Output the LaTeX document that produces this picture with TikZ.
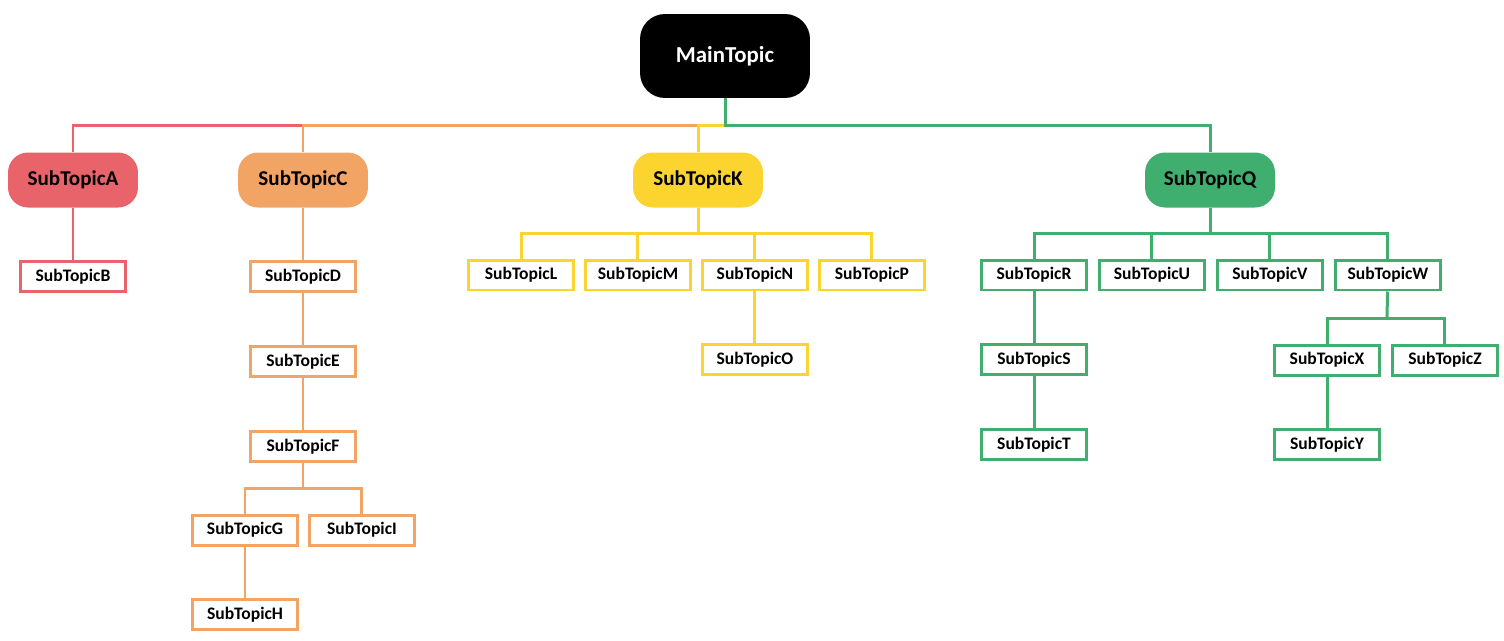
\documentclass[tikz,border=0pt]{standalone}
\usepackage{fontspec}
\setmainfont{Carlito}
\usetikzlibrary{positioning}

\definecolor{redA}{HTML}{E9636A}
\definecolor{orangeC}{HTML}{F2A465}
\definecolor{yellowK}{HTML}{FBD42F}
\definecolor{greenQ}{HTML}{3FAE6E}

\tikzset{
  maintopic/.style={rounded corners=0.5cm, fill=black, text=white, minimum width=3.4cm, minimum height=1.68cm, font=\bfseries\fontsize{13}{15}\selectfont},
  subtopic/.style={rounded corners=0.4cm, fill=#1, minimum width=2.6cm, minimum height=1.1cm, font=\bfseries\fontsize{12}{14}\selectfont},
  leaf/.style={draw=#1, line width=1.7pt, fill=white, minimum width=2.1cm, minimum height=0.6cm, font=\bfseries\fontsize{10}{12}\selectfont},
  link/.style={draw=#1, line width=1.7pt},
}

\begin{document}
\begin{tikzpicture}[x=0.02cm, y=-0.02cm]

        \useasboundingbox (0,0) rectangle (1504,640);

        % Main topic and first level
        \node[maintopic] (mainTopic) at (725,56) {MainTopic};
        \node[subtopic=redA] (subA) at (73,180) {SubTopicA};
        \node[subtopic=orangeC] (subC) at (303,180) {SubTopicC};
        \node[subtopic=yellowK] (subK) at (698,180) {SubTopicK};
        \node[subtopic=greenQ] (subQ) at (1210,180) {SubTopicQ};

        % Red branch
        \node[leaf=redA, below=1.04cm of subA] (subB) {SubTopicB};

        % Orange branch
        \node[leaf=orangeC, below=1.04cm of subC] (subD) {SubTopicD};
        \node[leaf=orangeC, below=1.04cm of subD] (subE) {SubTopicE};
        \node[leaf=orangeC, below=1.04cm of subE] (subF) {SubTopicF};
        \node[leaf=orangeC] (subG) at (245,530) {SubTopicG};
        \node[leaf=orangeC, right=0.18cm of subG] (subI) {SubTopicI};
        \node[leaf=orangeC, below=1.04cm of subG] (subH) {SubTopicH};

        % Yellow branch
        \node[leaf=yellowK] (subL) at (521,275) {SubTopicL};
        \node[leaf=yellowK, right=0.18cm of subL] (subM) {SubTopicM};
        \node[leaf=yellowK, right=0.18cm of subM] (subN) {SubTopicN};
        \node[leaf=yellowK, right=0.18cm of subN] (subP) {SubTopicP};
        \node[leaf=yellowK, below=1.04cm of subN] (subO) {SubTopicO};

        % Green branch
        \node[leaf=greenQ] (subR) at (1034,275) {SubTopicR};
        \node[leaf=greenQ, right=0.2cm of subR] (subU) {SubTopicU};
        \node[leaf=greenQ, right=0.2cm of subU] (subV) {SubTopicV};
        \node[leaf=greenQ, right=0.2cm of subV] (subW) {SubTopicW};
        \node[leaf=greenQ, below=1.04cm of subR] (subS) {SubTopicS};
        \node[leaf=greenQ, below=1.04cm of subS] (subT) {SubTopicT};
        \node[leaf=greenQ] (subX) at (1327,360) {SubTopicX};
        \node[leaf=greenQ, right=0.2cm of subX] (subZ) {SubTopicZ};
        \node[leaf=greenQ, below=1.04cm of subX] (subY) {SubTopicY};

        % Branching points
        \coordinate (hub) at (725,125);
        \coordinate (fHub) at (303,488);
        \coordinate (kHub) at (698,233);
        \coordinate (qHub) at (1210,233);
        \coordinate (wHub) at (1387,318);

        % Connections from the main topic
        \draw[link=redA] (hub) -| (subA);
        \draw[link=orangeC] (hub) -| (subC);
        \draw[link=yellowK] (hub) -| (subK);
        \draw[link=greenQ] (mainTopic) -- (hub) -| (subQ);

        % Connections inside the branches
        \draw[link=redA] (subA) -- (subB);
        \draw[link=orangeC] (subC) -- (subD);
        \draw[link=orangeC] (subD) -- (subE);
        \draw[link=orangeC] (subE) -- (subF);
        \draw[link=orangeC] (subF) -- (fHub);
        \foreach \n in {subG,subI}
          \draw[link=orangeC] (fHub) -| (\n);
        \draw[link=orangeC] (subG) -- (subH);

        \draw[link=yellowK] (subK) -- (kHub);
        \foreach \n in {subL,subM,subN,subP}
          \draw[link=yellowK] (kHub) -| (\n);
        \draw[link=yellowK] (subN) -- (subO);

        \draw[link=greenQ] (subQ) -- (qHub);
        \foreach \n in {subR,subU,subV,subW}
          \draw[link=greenQ] (qHub) -| (\n);
        \draw[link=greenQ] (subR) -- (subS);
        \draw[link=greenQ] (subS) -- (subT);
        \draw[link=greenQ] (subW) -- (wHub);
        \foreach \n in {subX,subZ}
          \draw[link=greenQ] (wHub) -| (\n);
        \draw[link=greenQ] (subX) -- (subY);

\end{tikzpicture}
\end{document}
